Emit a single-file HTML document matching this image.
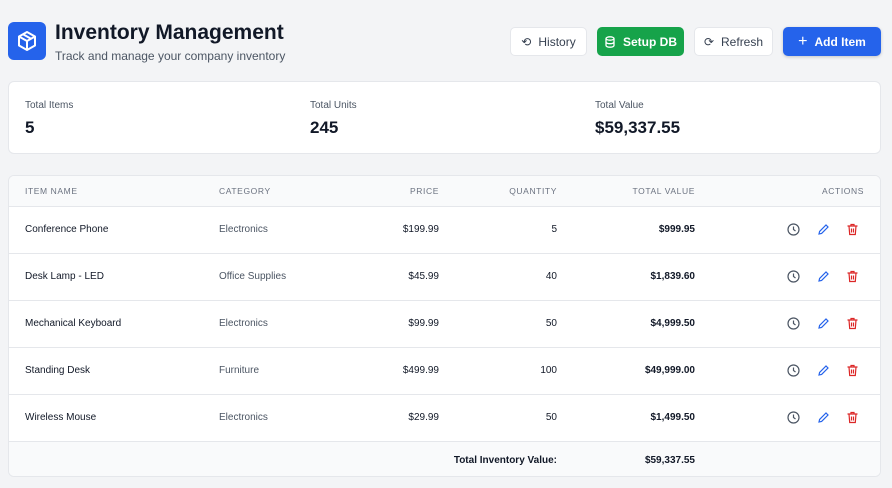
<!DOCTYPE html>
<html><head><meta charset="utf-8"><style>
*{box-sizing:border-box;margin:0;padding:0}
body{width:892px;height:488px;overflow:hidden;background:#f3f4f6;font-family:"Liberation Sans",sans-serif;color:#111827;position:relative}
.abs{position:absolute}
.btn{position:absolute;top:27px;height:29px;border-radius:5px;font-size:12px;display:flex;align-items:center;justify-content:center;gap:7px}
.wb{background:#fff;border:1px solid #e5e7eb;color:#374151}
.card{position:absolute;left:8px;width:873px;background:#fff;border:1px solid #e5e7eb;border-radius:6px}
.lbl{font-size:10px;color:#4b5563}
.val{font-size:17px;font-weight:bold;color:#111827}
.row{position:absolute;left:0;width:871px;height:47px;border-top:1px solid #e5e7eb;font-size:10px;color:#111827}
.row span{position:absolute;top:17px}
.hd span{position:absolute;top:10px;font-size:8.5px;letter-spacing:.6px;color:#6b7280}
.r{text-align:right}
</style></head><body>
<div class="abs" style="left:8px;top:22px;width:38px;height:38px;background:#2563eb;border-radius:6px">
<svg width="38" height="38" viewBox="0 0 38 38"><g fill="none" stroke="#fff" stroke-width="2" stroke-linejoin="round"><path d="M19 10l8 4.5v9L19 28l-8-4.5v-9z"/><path d="M11 14.5l8 4.5 8-4.5M19 19v9M15 12.3l8 4.5"/></g></svg></div>
<div class="abs" style="left:55px;top:21px;font-size:21px;font-weight:bold">Inventory Management</div>
<div class="abs" style="left:55px;top:49px;font-size:12px;color:#4b5563">Track and manage your company inventory</div>
<div class="btn wb" style="left:510px;width:77px"><span style="font-size:12px">⟲</span>History</div>
<div class="btn" style="left:597px;width:87px;background:#16a34a;color:#fff;font-weight:bold"><svg width="12" height="12" viewBox="0 0 12 12" fill="none" stroke="#fff" stroke-width="1.3"><ellipse cx="6" cy="2.5" rx="4" ry="1.7"/><path d="M2 2.5v7c0 1 1.8 1.7 4 1.7s4-.7 4-1.7v-7M2 6c0 1 1.8 1.7 4 1.7S10 7 10 6"/></svg>Setup DB</div>
<div class="btn wb" style="left:694px;width:79px"><span>⟳</span>Refresh</div>
<div class="btn" style="left:783px;width:98px;background:#2563eb;color:#fff;font-weight:bold;box-shadow:0 1px 3px rgba(0,0,0,.2)"><span style="font-size:16px;font-weight:normal">+</span>Add Item</div>
<div class="card" style="top:81px;height:73px">
<div class="abs lbl" style="left:16px;top:18px">Total Items</div><div class="abs val" style="left:16px;top:36px">5</div>
<div class="abs lbl" style="left:301px;top:18px">Total Units</div><div class="abs val" style="left:301px;top:36px">245</div>
<div class="abs lbl" style="left:586px;top:18px">Total Value</div><div class="abs val" style="left:586px;top:36px">$59,337.55</div>
</div>
<div class="card" style="top:175px;height:302px;overflow:hidden">
<div class="row hd" style="top:0;height:30px;border-top:none;background:#f9fafb">
<span style="left:16px">ITEM NAME</span><span style="left:210px">CATEGORY</span><span class="r" style="right:441px">PRICE</span><span class="r" style="right:323px">QUANTITY</span><span class="r" style="right:185px">TOTAL VALUE</span><span class="r" style="right:16px">ACTIONS</span></div>
<div id="rows"></div>
<div class="row" style="top:265px;height:37px;background:#f9fafb;font-weight:bold"><span class="r" style="top:13px;right:323px">Total Inventory Value:</span><span class="r" style="top:13px;right:185px">$59,337.55</span></div>
</div>
<script>
var d=[["Conference Phone","Electronics","$199.99","5","$999.95"],["Desk Lamp - LED","Office Supplies","$45.99","40","$1,839.60"],["Mechanical Keyboard","Electronics","$99.99","50","$4,999.50"],["Standing Desk","Furniture","$499.99","100","$49,999.00"],["Wireless Mouse","Electronics","$29.99","50","$1,499.50"]];
var h="";d.forEach(function(r,i){h+='<div class="row" style="top:'+(30+i*47)+'px"><span style="left:16px">'+r[0]+'</span><span style="left:210px;color:#4b5563">'+r[1]+'</span><span class="r" style="right:441px">'+r[2]+'</span><span class="r" style="right:323px">'+r[3]+'</span><span class="r" style="right:185px;font-weight:bold">'+r[4]+'</span>'+
'<svg style="position:absolute;left:778px;top:16px" width="13" height="13" viewBox="0 0 13 13" fill="none" stroke="#4b5563" stroke-width="1.2"><circle cx="6.5" cy="6.5" r="5.5"/><path d="M6.5 3.5v3l2 1.5"/></svg>'+
'<svg style="position:absolute;left:808px;top:16px" width="13" height="13" viewBox="0 0 13 13" fill="none" stroke="#2563eb" stroke-width="1.2"><path d="M2 11l.6-2.6L9 2l2 2-6.4 6.4z"/></svg>'+
'<svg style="position:absolute;left:837px;top:16px" width="13" height="13" viewBox="0 0 13 13" fill="none" stroke="#dc2626" stroke-width="1.2"><path d="M1.5 3h10M5 3V1.5h3V3M3 3l.7 8.5h5.6L10 3M5.5 5.5v4M7.5 5.5v4"/></svg></div>'});
document.getElementById("rows").innerHTML=h;
</script>
</body></html>
